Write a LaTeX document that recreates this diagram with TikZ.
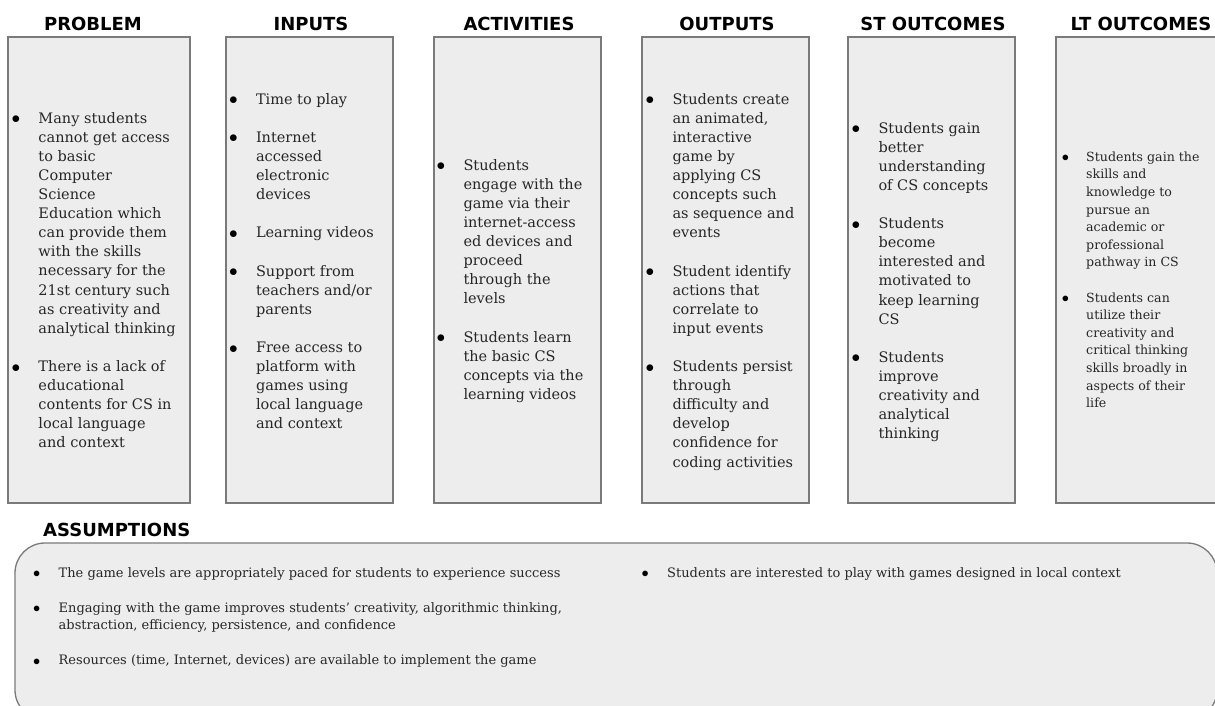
\documentclass[tikz,border=0pt]{standalone}
\usepackage{fontspec}
\setmainfont{DejaVu Serif}
\newfontfamily\headfont{DejaVu Sans}

\definecolor{panelfill}{HTML}{EDEDED}
\definecolor{paneledge}{HTML}{7A7A7A}
\definecolor{bodyink}{HTML}{262626}

% bullet box and hanging indent for the lists
\newcommand{\bul}[1][26.8pt]{\makebox[#1][l]{\strut\textcolor{black}{\raisebox{-0.04em}{\scalebox{1.2}{$\bullet$}}}}}
\newcommand{\hng}[1][26.8pt]{\hspace*{#1}}

\begin{document}
\begin{tikzpicture}[x=1pt,y=-1pt,
    panel/.style={draw=paneledge, line width=1.3pt, fill=panelfill},
    head/.style={anchor=base, inner sep=0pt, font=\headfont\bfseries\fontsize{18}{20}\selectfont},
    colitems/.style={anchor=north west, align=left, inner sep=0pt, text=bodyink,
        font=\fontsize{14.5}{19.1}\selectfont},
    smallitems/.style={colitems, font=\fontsize{12.6}{17.6}\selectfont},
    assumeitems/.style={colitems, font=\fontsize{13}{17.5}\selectfont}]

    % Page
    \useasboundingbox (0,0) rectangle (1215,706);
    \clip (0,0) rectangle (1215,706);

    % Columns and headings
    \foreach \nm/\xl/\xr/\xt/\ttl in {prob/8/190/93/PROBLEM, inp/226/393/311/INPUTS,
        act/434/601/519/ACTIVITIES, outp/642/809/727/OUTPUTS,
        st/848/1015/933/ST OUTCOMES, lt/1056/1224/1141/LT OUTCOMES}{
        \draw[panel] (\xl,37) rectangle (\xr,503);
        \node[head] (\nm-head) at (\xt,31) {\ttl};
    }

    % Assumptions panel
    \draw[panel, rounded corners=30pt] (15,543) rectangle (1217,720);
    \node[head, anchor=base west] (assume-head) at (43,536) {ASSUMPTIONS};

    % Problem (top of first strut sits 13.4 above the first baseline)
    \node[colitems] (prob-text) at (11.5,109.6) {%
        \bul Many students\\
        \hng cannot get access\\
        \hng to basic\\
        \hng Computer\\
        \hng Science\\
        \hng Education which\\
        \hng can provide them\\
        \hng with the skills\\
        \hng necessary for the\\
        \hng 21st century such\\
        \hng as creativity and\\
        \hng analytical thinking\\[19.1pt]
        \bul There is a lack of\\
        \hng educational\\
        \hng contents for CS in\\
        \hng local language\\
        \hng and context};

    % Inputs
    \node[colitems] (inp-text) at (229,90.6) {%
        \bul Time to play\\[19.1pt]
        \bul Internet\\
        \hng accessed\\
        \hng electronic\\
        \hng devices\\[19.1pt]
        \bul Learning videos\\[19.1pt]
        \bul Support from\\
        \hng teachers and/or\\
        \hng parents\\[19.1pt]
        \bul Free access to\\
        \hng platform with\\
        \hng games using\\
        \hng local language\\
        \hng and context};

    % Activities
    \node[colitems] (act-text) at (436.5,156.6) {%
        \bul Students\\
        \hng engage with the\\
        \hng game via their\\
        \hng internet-access\\
        \hng ed devices and\\
        \hng proceed\\
        \hng through the\\
        \hng levels\\[19.1pt]
        \bul Students learn\\
        \hng the basic CS\\
        \hng concepts via the\\
        \hng learning videos};

    % Outputs
    \node[colitems] (outp-text) at (645.5,90.6) {%
        \bul Students create\\
        \hng an animated,\\
        \hng interactive\\
        \hng game by\\
        \hng applying CS\\
        \hng concepts such\\
        \hng as sequence and\\
        \hng events\\[19.1pt]
        \bul Student identify\\
        \hng actions that\\
        \hng correlate to\\
        \hng input events\\[19.1pt]
        \bul Students persist\\
        \hng through\\
        \hng difficulty and\\
        \hng develop\\
        \hng confidence for\\
        \hng coding activities};

    % Short term outcomes
    \node[colitems] (st-text) at (851.5,119.6) {%
        \bul Students gain\\
        \hng better\\
        \hng understanding\\
        \hng of CS concepts\\[19.1pt]
        \bul Students\\
        \hng become\\
        \hng interested and\\
        \hng motivated to\\
        \hng keep learning\\
        \hng CS\\[19.1pt]
        \bul Students\\
        \hng improve\\
        \hng creativity and\\
        \hng analytical\\
        \hng thinking};

    % Long term outcomes
    \node[smallitems] (lt-text) at (1061.7,148.7) {%
        \bul[24.3pt]Students gain the\\
        \hng[24.3pt]skills and\\
        \hng[24.3pt]knowledge to\\
        \hng[24.3pt]pursue an\\
        \hng[24.3pt]academic or\\
        \hng[24.3pt]professional\\
        \hng[24.3pt]pathway in CS\\[17.6pt]
        \bul[24.3pt]Students can\\
        \hng[24.3pt]utilize their\\
        \hng[24.3pt]creativity and\\
        \hng[24.3pt]critical thinking\\
        \hng[24.3pt]skills broadly in\\
        \hng[24.3pt]aspects of their\\
        \hng[24.3pt]life};

    % Assumptions
    \node[assumeitems] (assume-left) at (33,564.8) {%
        \bul[25.5pt]The game levels are appropriately paced for students to experience success\\[17.5pt]
        \bul[25.5pt]Engaging with the game improves students’ creativity, algorithmic thinking,\\
        \hng[25.5pt]abstraction, efficiency, persistence, and confidence\\[17.5pt]
        \bul[25.5pt]Resources (time, Internet, devices) are available to implement the game};
    \node[assumeitems] (assume-right) at (641.5,564.8) {%
        \bul[25.5pt]Students are interested to play with games designed in local context};

\end{tikzpicture}
\end{document}
